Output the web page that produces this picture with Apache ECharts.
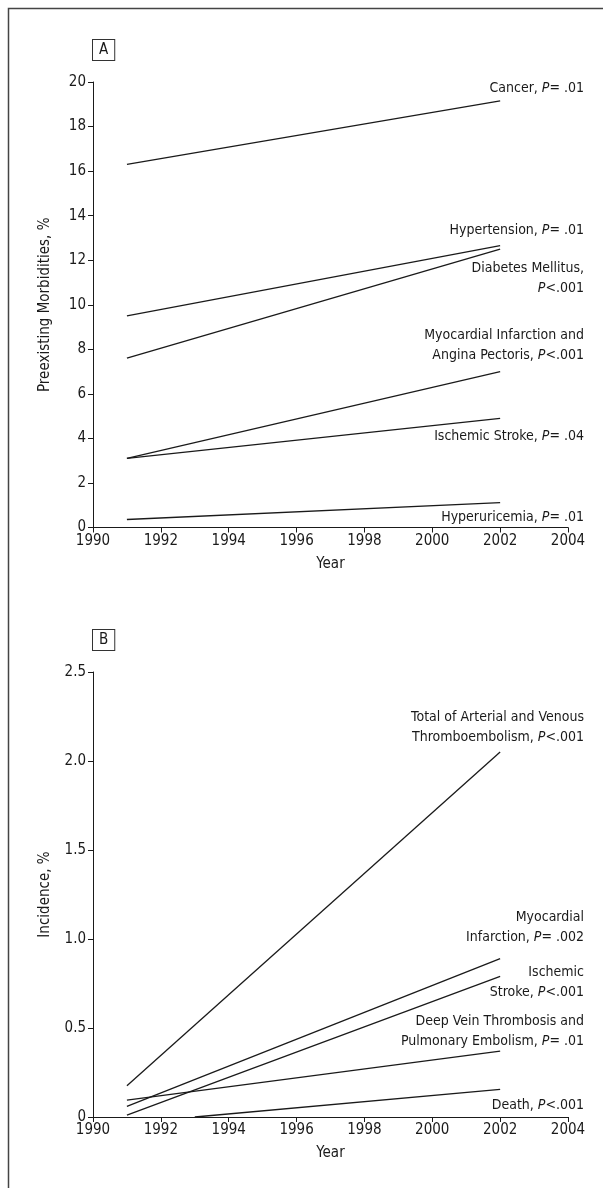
<!DOCTYPE html>
<html>
<head>
<meta charset="utf-8">
<script src="https://cdn.jsdelivr.net/npm/echarts@6/dist/echarts.min.js"></script>
<style>
html, body { margin: 0; padding: 0; background: #fff; }
#chart { width: 603px; height: 1188px; }
</style>
</head>
<body>
<div id="chart"></div>
<script>
// panel A - preexisting morbidities, % (fitted lines 1991 -> 2002)
const yearsA = [1991, 2002];
const cancer = [16.3, 19.15];
const hypertension = [9.5, 12.65];
const diabetes = [7.6, 12.5];
const myocardialAngina = [3.1, 7.0];
const ischemicStrokeA = [3.1, 4.9];
const hyperuricemia = [0.36, 1.12];

// panel B - incidence, %
const yearsB = [1991, 2002];
const totalThrombo = [0.175, 2.05];
const myocardialInf = [0.06, 0.89];
const ischemicStrokeB = [0.01, 0.79];
const dvtPe = [0.095, 0.37];
const deathYears = [1993, 2002];
const death = [0, 0.155];

const FONT = '"Liberation Sans Narrow", "DejaVu Sans Condensed", "Arial Narrow", sans-serif';
const INK = '#1a1a1a';

function pairs(xs, ys) {
    return xs.map((x, i) => [x, ys[i]]);
}

function lineSeries(xs, ys, axis) {
    return {
        type: 'line',
        xAxisIndex: axis,
        yAxisIndex: axis,
        data: pairs(xs, ys),
        symbol: 'none',
        lineStyle: { color: INK, width: 1.3 },
        silent: true,
    };
}

function xAxis(grid) {
    return {
        type: 'value',
        gridIndex: grid,
        min: 1990,
        max: 2004,
        interval: 2,
        name: 'Year',
        nameLocation: 'middle',
        nameGap: 29,
        nameTextStyle: { fontFamily: FONT, fontSize: 15, color: INK },
        axisLine: { lineStyle: { color: INK, width: 1 } },
        axisTick: { length: 5, lineStyle: { color: INK } },
        axisLabel: { fontFamily: FONT, fontSize: 15, color: INK, margin: 6, formatter: v => String(v) },
        splitLine: { show: false },
    };
}

function yAxis(grid, max, interval, name, fmt) {
    return {
        type: 'value',
        gridIndex: grid,
        min: 0,
        max: max,
        interval: interval,
        name: name,
        nameLocation: 'middle',
        nameGap: 40,
        nameTextStyle: { fontFamily: FONT, fontSize: 15, color: INK },
        axisLine: { show: true, lineStyle: { color: INK, width: 1 } },
        axisTick: { show: true, length: 5, lineStyle: { color: INK } },
        axisLabel: { fontFamily: FONT, fontSize: 15, color: INK, margin: 7, formatter: fmt },
        splitLine: { show: false },
    };
}

// right-aligned line labels
function note(text, y) {
    return {
        type: 'text',
        silent: true,
        style: {
            text: text,
            x: 584,
            y: y,
            align: 'right',
            verticalAlign: 'middle',
            fontFamily: FONT,
            fontSize: 14,
            lineHeight: 20,
            fill: INK,
            rich: { i: { fontFamily: FONT, fontSize: 14, fontStyle: 'italic', fill: INK } },
        },
    };
}

function panelTag(text, y) {
    return {
        type: 'text',
        silent: true,
        x: 93,
        y: y,
        style: {
            text: text,
            fontFamily: FONT,
            fontSize: 15,
            fill: INK,
            backgroundColor: '#fff',
            borderColor: '#333',
            borderWidth: 1,
            padding: [3, 6, 2, 6],
        },
    };
}

let chart = echarts.init(document.getElementById('chart'));
chart.setOption({
    animation: false,
    grid: [
        { left: 93, right: 35, top: 82, height: 445.5 },
        { left: 93, right: 35, top: 672, height: 445 },
    ],
    xAxis: [xAxis(0), xAxis(1)],
    yAxis: [
        yAxis(0, 20, 2, 'Preexisting Morbidities, %'),
        yAxis(1, 2.5, 0.5, 'Incidence, %', v => (v === 0 ? '0' : v.toFixed(1))),
    ],
    series: [
        lineSeries(yearsA, cancer, 0),
        lineSeries(yearsA, hypertension, 0),
        lineSeries(yearsA, diabetes, 0),
        lineSeries(yearsA, myocardialAngina, 0),
        lineSeries(yearsA, ischemicStrokeA, 0),
        lineSeries(yearsA, hyperuricemia, 0),
        lineSeries(yearsB, totalThrombo, 1),
        lineSeries(yearsB, myocardialInf, 1),
        lineSeries(yearsB, ischemicStrokeB, 1),
        lineSeries(yearsB, dvtPe, 1),
        lineSeries(deathYears, death, 1),
    ],
    graphic: [
        {
            type: 'rect',
            silent: true,
            shape: { x: 8.5, y: 8.5, width: 700, height: 1300 },
            style: { fill: 'none', stroke: '#444', lineWidth: 1.5 },
        },
        panelTag('A', 40),
        panelTag('B', 630),
        note('Cancer, {i|P}= .01', 88),
        note('Hypertension, {i|P}= .01', 230),
        note('Diabetes Mellitus,\n{i|P}<.001', 278),
        note('Myocardial Infarction and\nAngina Pectoris, {i|P}<.001', 345),
        note('Ischemic Stroke, {i|P}= .04', 436),
        note('Hyperuricemia, {i|P}= .01', 517),
        note('Total of Arterial and Venous\nThromboembolism, {i|P}<.001', 727),
        note('Myocardial\nInfarction, {i|P}= .002', 927),
        note('Ischemic\nStroke, {i|P}<.001', 982),
        note('Deep Vein Thrombosis and\nPulmonary Embolism, {i|P}= .01', 1031),
        note('Death, {i|P}<.001', 1105),
    ],
});
window.addEventListener('resize', () => chart.resize());
</script>
</body>
</html>
